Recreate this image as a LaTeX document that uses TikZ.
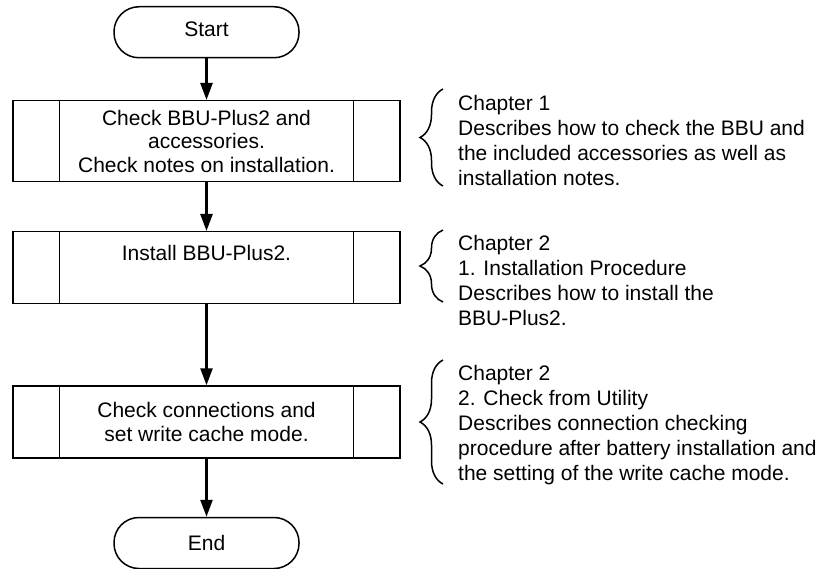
\documentclass[tikz,border=0pt]{standalone}
\usepackage{fontspec}
\setmainfont{Liberation Sans}
\usetikzlibrary{arrows.meta,decorations.pathreplacing}
\begin{document}
\begin{tikzpicture}[x=1pt,y=-1pt,
  every node/.style={font=\fontsize{21}{23.5}\selectfont},
  term/.style={draw, line width=1.5pt, rounded corners=25pt, minimum width=185pt, minimum height=51pt, inner sep=0pt},
  procshape/.style={draw, line width=1.5pt, minimum width=387pt, inner sep=0pt},
  procbox/.style={procshape, align=center},
  sideline/.style={line width=1.2pt},
  flow/.style={line width=2.5pt, -{Triangle[length=17pt,width=12pt]}},
  brc/.style={decorate, decoration={brace, amplitude=23pt}, line width=1.5pt},
  note/.style={anchor=north west, inner sep=0pt, align=left, font=\fontsize{21}{25}\selectfont},
]
\path[use as bounding box] (0,0) rectangle (826,569);

\node[term, text height=15pt, text depth=5.5pt] (start) at (206.5,32.25) {Start};
\node[procbox, minimum height=81pt] (b1) at (206.5,141.2) {Check BBU-Plus2 and\\accessories.\\Check notes on installation.};
\node[procshape, minimum height=71.6pt, text height=15pt, text depth=30pt] (b2) at (206.5,267.5) {Install BBU-Plus2.};
\node[procbox, minimum height=72pt] (b3) at (206.5,422) {Check connections and\\set write cache mode.};
\node[term, text height=15pt, text depth=0pt] (end) at (206.5,543) {End};

\foreach \b in {b1,b2,b3} {
  \draw[sideline] ([xshift=47pt]\b.north west) -- ([xshift=47pt]\b.south west);
  \draw[sideline] ([xshift=-47pt]\b.north east) -- ([xshift=-47pt]\b.south east);
}

\draw[flow] (start.south) -- (b1.north);
\draw[flow] (b1.south) -- (b2.north);
\draw[flow] (b2.south) -- (b3.north);
\draw[flow] (b3.south) -- (end.north);

\draw[brc] (443,186) -- (443,89);
\draw[brc] (443,302) -- (443,230);
\draw[brc] (443,484) -- (443,360);

\node[note] (n1) at (458,95) {Chapter 1\\Describes how to check the BBU and\\the included accessories as well as\\installation notes.};
\node[note] (n2) at (458,235) {Chapter 2\\1. Installation Procedure\\Describes how to install the\\BBU-Plus2.};
\node[note] (n3) at (458,365) {Chapter 2\\2. Check from Utility\\Describes connection checking\\procedure after battery installation and\\the setting of the write cache mode.};
\end{tikzpicture}
\end{document}
